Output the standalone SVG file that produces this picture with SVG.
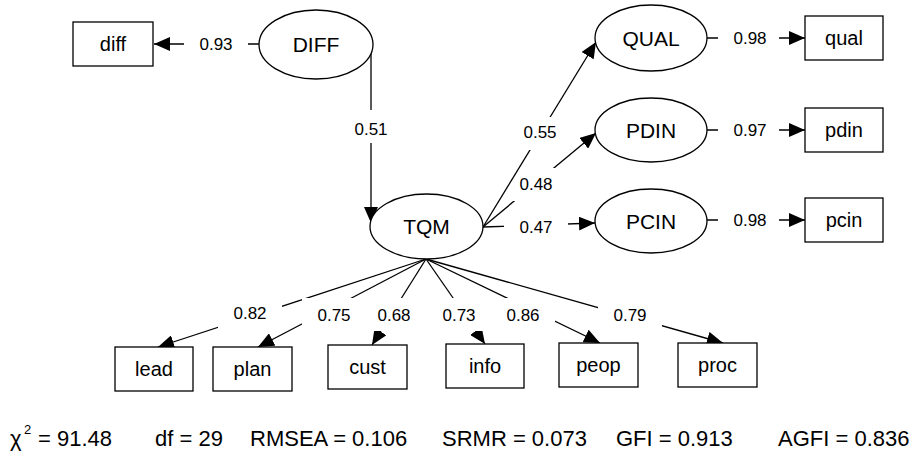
<svg xmlns="http://www.w3.org/2000/svg" width="916" height="452" viewBox="0 0 916 452">
<style>
.n{fill:#fff;stroke:#000;stroke-width:1.3}
.t{font-family:"Liberation Sans",Arial,sans-serif;fill:#000;text-anchor:middle}
.nt{font-size:21px}
.bt{font-size:20px}
.c{fill:none;stroke:#000;stroke-width:1.3;marker-end:url(#ah)}
.p{fill:none;stroke:#000;stroke-width:1.3}
.lb{fill:#fff;stroke:none}
.lt{font-size:17px}
.fit{font-family:"Liberation Sans",Arial,sans-serif;font-size:22px;fill:#000}
</style>
<defs>
<marker id="ah" markerUnits="userSpaceOnUse" markerWidth="16" markerHeight="14" refX="16" refY="7" orient="auto" viewBox="0 0 16 14"><path d="M0,0 L16,7 L0,14 z" fill="#000"/></marker>
</defs>
<rect width="916" height="452" fill="#fff"/>
<g id="connectors">
  <path class="c" d="M259,44 L154,44"/>
  <path class="p" d="M372,44 L371,46"/>
  <path class="c" d="M371,46 L371,223"/>
  <path class="c" d="M707,38 L805,38"/>
  <path class="c" d="M707,130 L805,130"/>
  <path class="c" d="M707,220 L805,220"/>
  <path class="c" d="M483,227 L596,133"/>
  <path class="c" d="M483,227 L595,223"/>
  <path class="c" d="M426,259 L158,347"/>
  <path class="c" d="M426,259 L258,347"/>
  <path class="c" d="M426,259 L372,345"/>
  <path class="c" d="M426,259 L485,344"/>
  <path class="c" d="M426,259 L600,343"/>
  <path class="c" d="M426,259 L723,343"/>
  <g id="labels1">
    <rect class="lb" x="184" y="28" width="64" height="33"/><text class="t lt" x="216" y="50">0.93</text>
    <rect class="lb" x="339" y="110" width="64" height="33"/><text class="t lt" x="371" y="135">0.51</text>
    <rect class="lb" x="718" y="22" width="61" height="33"/><text class="t lt" x="750" y="44">0.98</text>
    <rect class="lb" x="718" y="114" width="61" height="33"/><text class="t lt" x="750" y="136">0.97</text>
    <rect class="lb" x="718" y="204" width="61" height="33"/><text class="t lt" x="750" y="226">0.98</text>
    <rect class="lb" x="504" y="168" width="64" height="33"/><text class="t lt" x="536" y="190">0.48</text>
    <rect class="lb" x="504" y="211" width="64" height="33"/><text class="t lt" x="536" y="233">0.47</text>
  </g>
  <path class="c" d="M483,227 L596,42"/>
  <rect class="lb" x="508" y="117" width="64" height="33"/><text class="t lt" x="540" y="138">0.55</text>
  <g id="labels2">
    <rect class="lb" x="218" y="297" width="64" height="33"/><text class="t lt" x="250" y="319">0.82</text>
    <rect class="lb" x="302" y="298" width="64" height="33"/><text class="t lt" x="334" y="321">0.75</text>
    <rect class="lb" x="362" y="298" width="64" height="33"/><text class="t lt" x="394" y="321">0.68</text>
    <rect class="lb" x="427" y="298" width="64" height="33"/><text class="t lt" x="459" y="321">0.73</text>
    <rect class="lb" x="491" y="298" width="64" height="33"/><text class="t lt" x="523" y="321">0.86</text>
    <rect class="lb" x="598" y="298" width="64" height="33"/><text class="t lt" x="630" y="321">0.79</text>
  </g>
</g>
<g id="DIFF"><ellipse class="n" cx="316" cy="44.5" rx="57" ry="34.5"/><text class="t nt" x="316" y="52">DIFF</text></g>
<g id="TQM"><ellipse class="n" cx="426.5" cy="226.5" rx="56.5" ry="32.5"/><text class="t nt" x="426.5" y="234">TQM</text></g>
<g id="QUAL"><ellipse class="n" cx="651" cy="38" rx="56" ry="33"/><text class="t nt" x="651" y="45.5">QUAL</text></g>
<g id="PDIN"><ellipse class="n" cx="651" cy="130" rx="56" ry="32"/><text class="t nt" x="651" y="137.5">PDIN</text></g>
<g id="PCIN"><ellipse class="n" cx="651" cy="221" rx="56" ry="32"/><text class="t nt" x="651" y="228.5">PCIN</text></g>
<g id="diff"><rect class="n" x="73" y="22" width="80" height="44"/><text class="t bt" x="113" y="51">diff</text></g>
<g id="qual"><rect class="n" x="805" y="16" width="78" height="44"/><text class="t bt" x="844" y="45">qual</text></g>
<g id="pdin"><rect class="n" x="805" y="108" width="78" height="44"/><text class="t bt" x="844" y="137">pdin</text></g>
<g id="pcin"><rect class="n" x="805" y="198" width="78" height="44"/><text class="t bt" x="844" y="227">pcin</text></g>
<g id="lead"><rect class="n" x="115" y="347" width="78" height="44"/><text class="t bt" x="154" y="376">lead</text></g>
<g id="plan"><rect class="n" x="213" y="347" width="79" height="44"/><text class="t bt" x="252.5" y="376">plan</text></g>
<g id="cust"><rect class="n" x="328" y="345" width="79" height="44"/><text class="t bt" x="367.5" y="374">cust</text></g>
<g id="info"><rect class="n" x="446" y="344" width="78" height="44"/><text class="t bt" x="485" y="373">info</text></g>
<g id="peop"><rect class="n" x="559" y="343" width="79" height="44"/><text class="t bt" x="598.5" y="372">peop</text></g>
<g id="proc"><rect class="n" x="678" y="343" width="79" height="44"/><text class="t bt" x="717.5" y="372">proc</text></g>
<g id="fit">
  <text class="fit" x="10" y="446">χ</text>
  <text class="fit" x="24" y="434" style="font-size:13px">2</text>
  <text class="fit" x="38" y="446">= 91.48</text>
  <text class="fit" x="155" y="446">df = 29</text>
  <text class="fit" x="250" y="446">RMSEA = 0.106</text>
  <text class="fit" x="442" y="446">SRMR = 0.073</text>
  <text class="fit" x="616" y="446">GFI = 0.913</text>
  <text class="fit" x="778" y="446">AGFI = 0.836</text>
</g>
</svg>
